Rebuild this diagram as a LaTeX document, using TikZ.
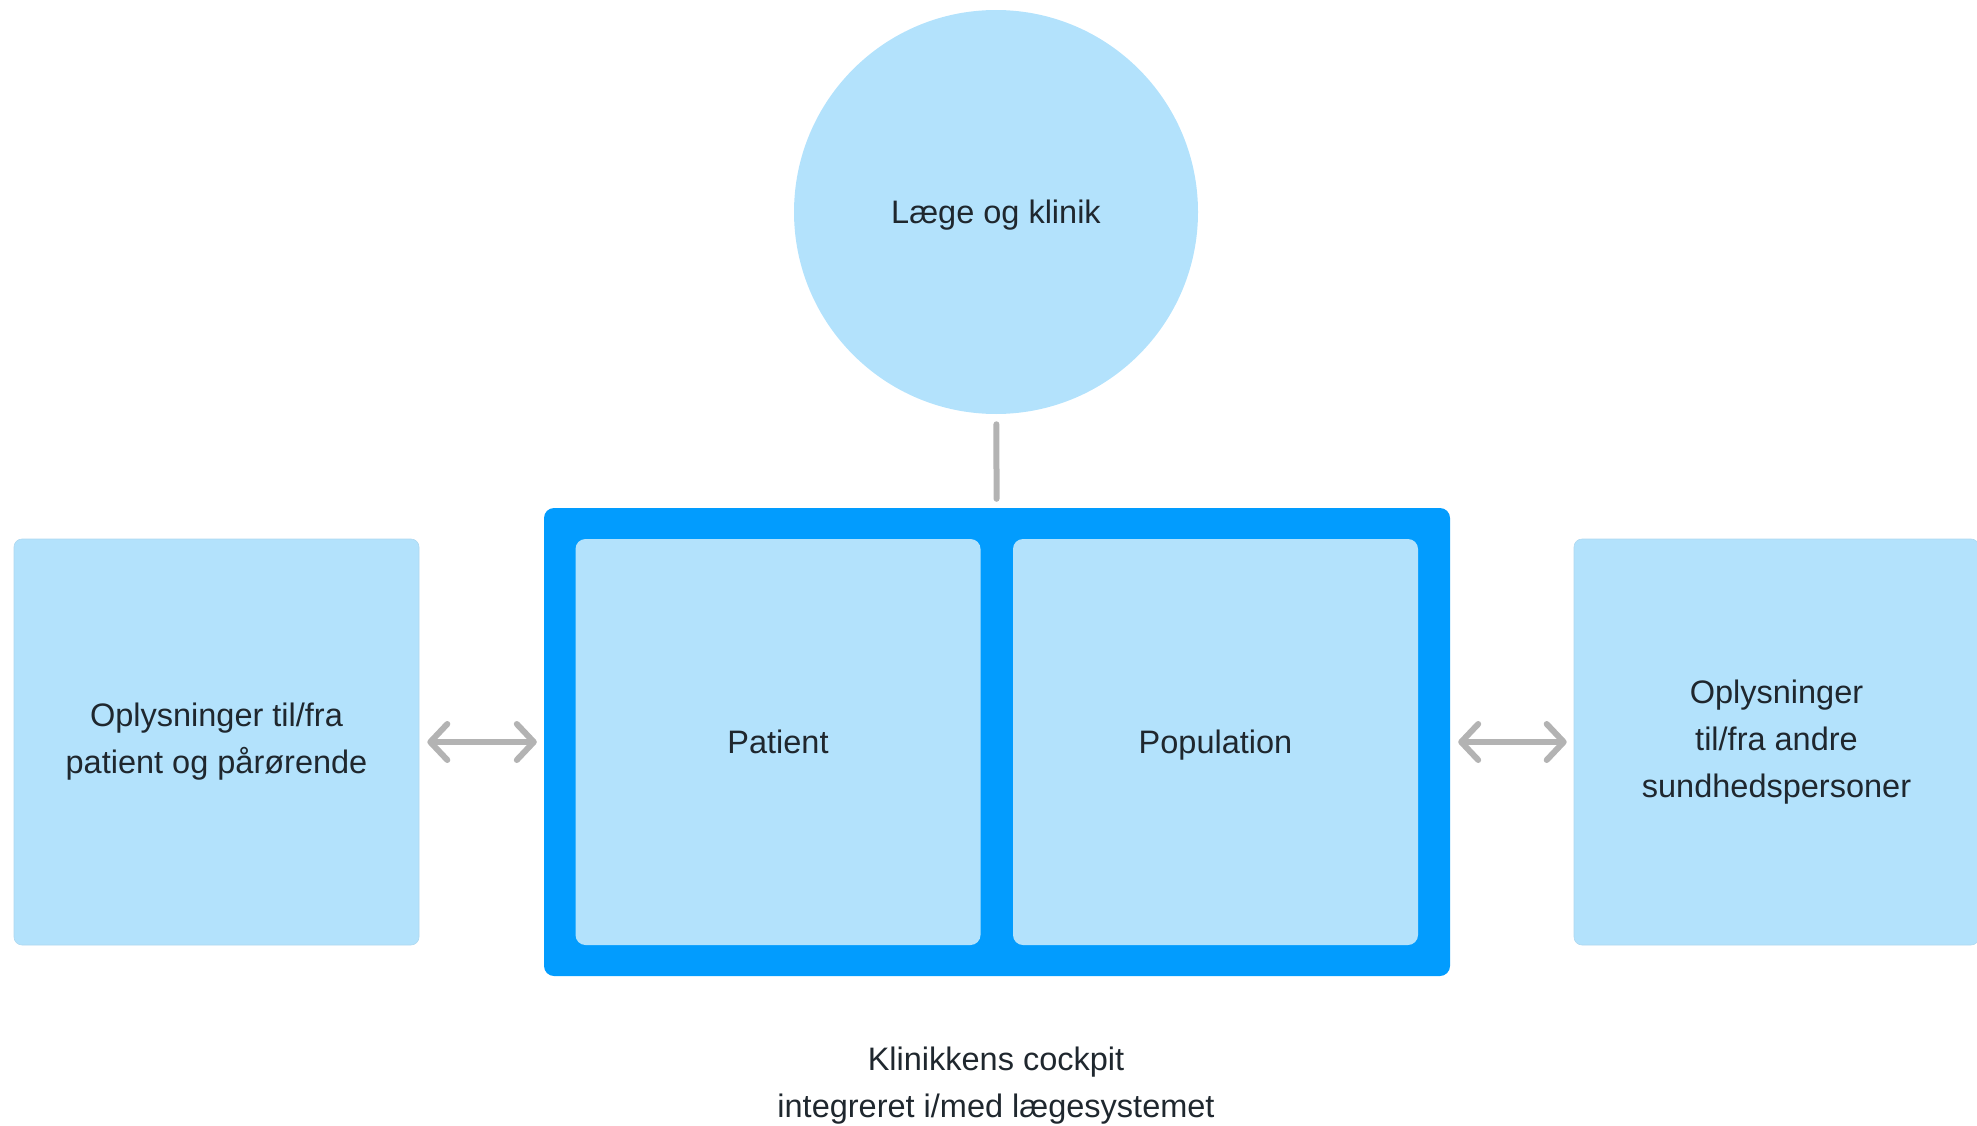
\documentclass[tikz,border=0pt]{standalone}
\usepackage{fontspec}
\setmainfont{Liberation Sans}
\usetikzlibrary{arrows.meta}
\definecolor{lysblaa}{RGB}{179,226,252}
\definecolor{blaa}{RGB}{2,156,254}
\definecolor{graa}{RGB}{179,179,179}
\definecolor{tekst}{RGB}{31,39,46}
\tikzset{
  boks/.style={rectangle, rounded corners=8pt, fill=lysblaa, draw=lysblaa!90!gray, line width=0.6pt,
    minimum width=405pt, minimum height=406pt, inner sep=0pt, align=center,
    text=tekst, font=\fontsize{32.5}{47}\selectfont},
  enlinje/.style={text height=30.3pt, text depth=7pt},
  flerlinje/.style={execute at begin node={\vspace*{10pt}}},
  indre/.style={boks, enlinje, draw=none, rounded corners=10pt},
  pil/.style={graa, line width=6pt, line cap=round},
}
\begin{document}
\begin{tikzpicture}[x=1pt, y=-1pt, >={Straight Barb[length=17pt, width=36pt, round]}]
\useasboundingbox (0,0) rectangle (1977,1126);
% top
\node[boks, enlinje, draw=none, circle, minimum size=404pt] (laege) at (996,212) {Læge og klinik};
% cockpit
\node[rectangle, rounded corners=10pt, fill=blaa, minimum width=906pt, minimum height=468pt, inner sep=0pt] (cockpit) at (997,742) {};
\node[indre] (patient) at (778,742) {Patient};
\node[indre] (population) at (1215.5,742) {Population};
\node[text=tekst, font=\fontsize{32.5}{47}\selectfont, align=center] (navn) at (996,1086) {Klinikkens cockpit\\integreret i/med lægesystemet};
% sides
\node[boks, flerlinje] (venstre) at (216.5,742) {Oplysninger til/fra\\patient og pårørende};
\node[boks, flerlinje] (hoejre) at (1776.5,742) {Oplysninger\\til/fra andre\\sundhedspersoner};
% connectors
\draw[pil, shorten <=10pt, shorten >=9pt] (laege) -- (cockpit);
\draw[pil, <->, shorten <=8pt, shorten >=7pt] (venstre) -- (cockpit);
\draw[pil, <->, shorten <=8pt, shorten >=7pt] (cockpit) -- (hoejre);
\end{tikzpicture}
\end{document}
